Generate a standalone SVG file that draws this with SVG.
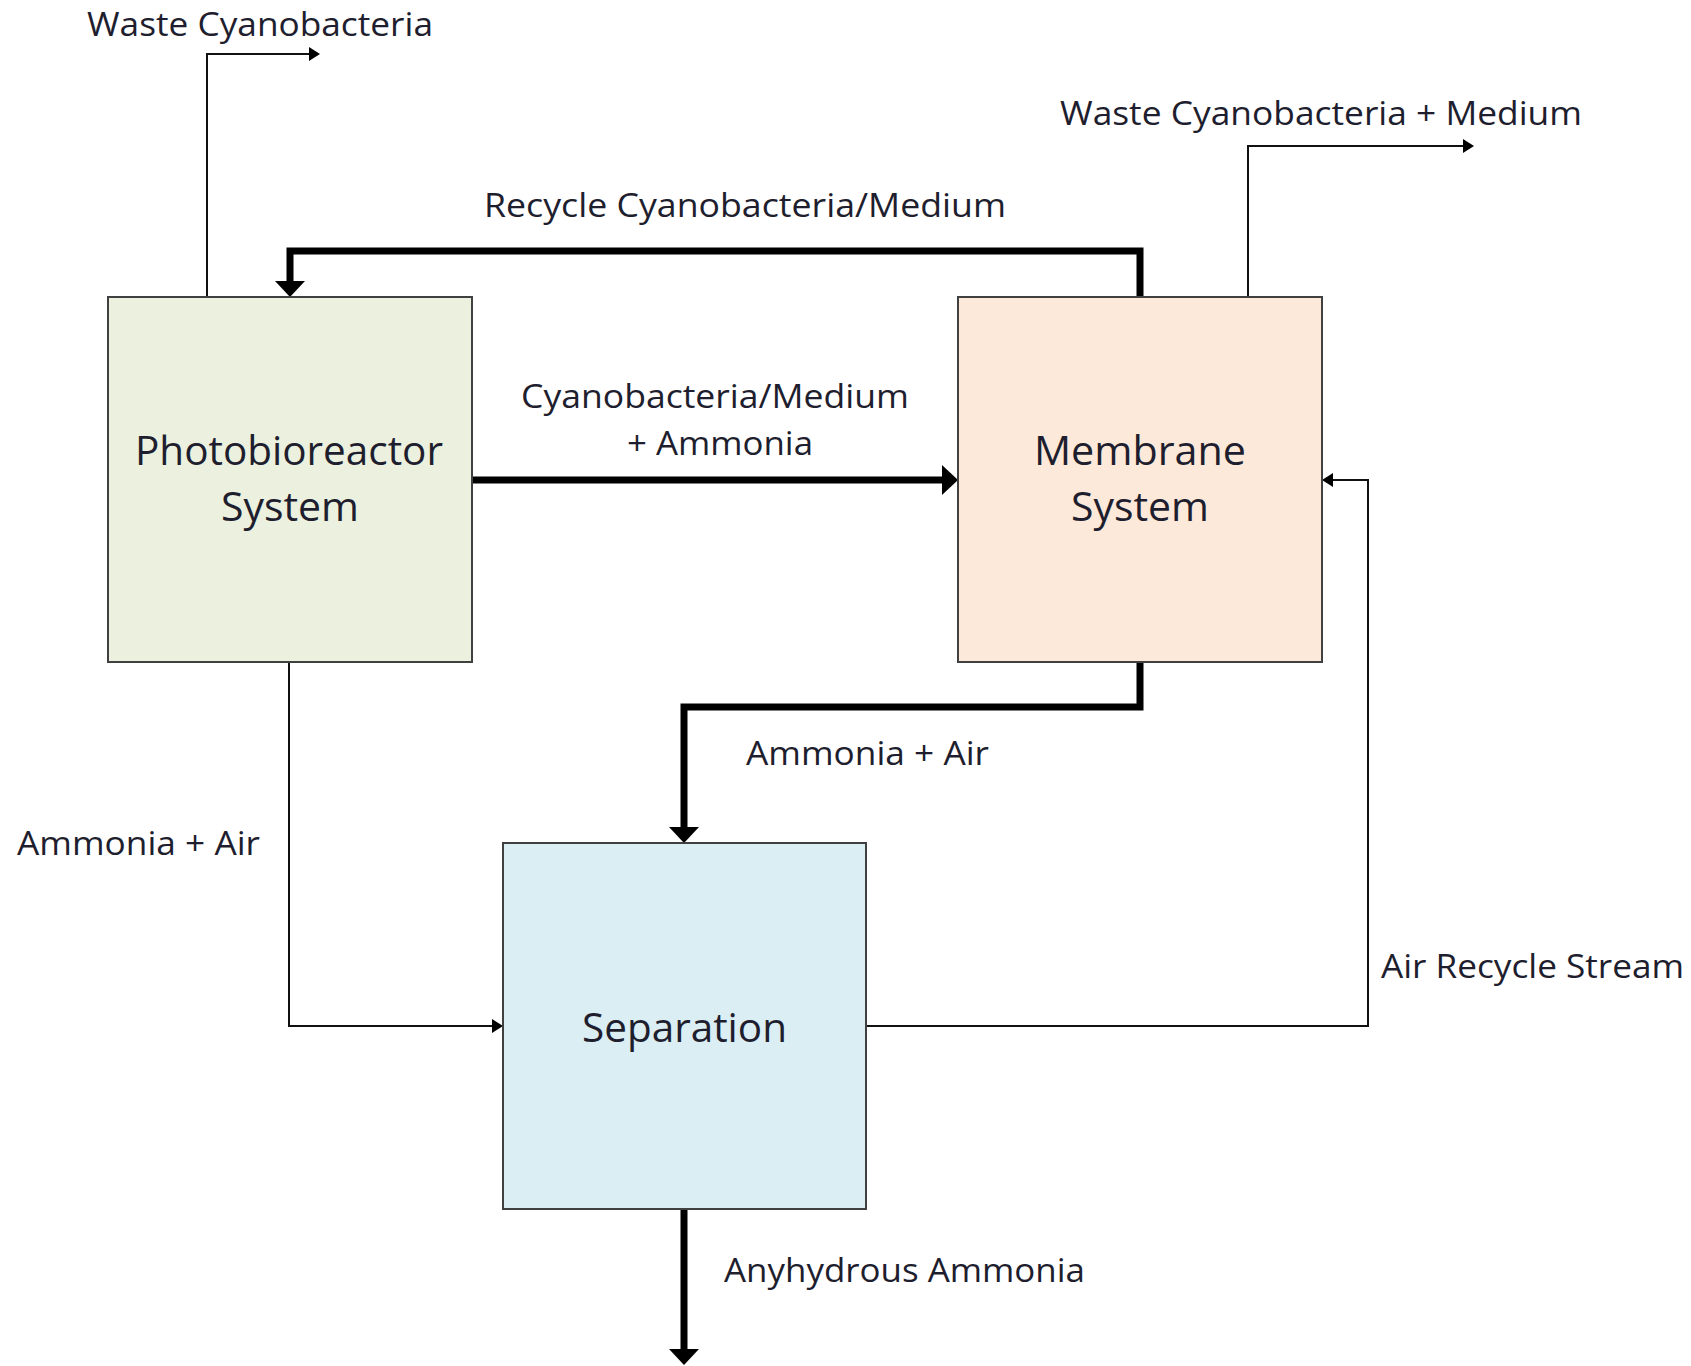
<svg xmlns="http://www.w3.org/2000/svg" width="1691" height="1366" viewBox="0 0 1691 1366">
<style>
  .box { stroke: #404040; stroke-width: 2; }
  .lbl { font-family: "Open Sans", "Liberation Sans", sans-serif; font-size: 32px; fill: #1e1e2e; }
  .node { font-family: "Open Sans", "Liberation Sans", sans-serif; font-size: 41px; fill: #1e1e2e; }
  .thin { fill: none; stroke: #111; stroke-width: 2; stroke-linejoin: miter; }
  .thick { fill: none; stroke: #000; stroke-width: 7; stroke-linejoin: miter; stroke-linecap: round; }
</style>
<defs>
  <marker id="ahThick" markerUnits="userSpaceOnUse" viewBox="0 0 16 30" markerWidth="16" markerHeight="30" refX="0" refY="15" orient="auto">
    <path d="M0,0 L16,15 L0,30 z" fill="#000"/>
  </marker>
  <marker id="ahThin" markerUnits="userSpaceOnUse" viewBox="0 0 11 14" markerWidth="11" markerHeight="14" refX="0" refY="7" orient="auto">
    <path d="M0,0 L11,7 L0,14 z" fill="#000"/>
  </marker>
</defs>
<rect width="1691" height="1366" fill="#ffffff"/>

<g id="connectors">
  <path class="thin" d="M207,297 V54 H309" marker-end="url(#ahThin)"/>
  <path class="thick" d="M1140,297 V251 H290 V281" marker-end="url(#ahThick)"/>
  <path class="thick" d="M472,480 H942" marker-end="url(#ahThick)"/>
  <path class="thin" d="M1248,297 V146 H1463" marker-end="url(#ahThin)"/>
  <path class="thick" d="M1140,662 V707 H684 V827" marker-end="url(#ahThick)"/>
  <path class="thin" d="M289,662 V1026 H492" marker-end="url(#ahThin)"/>
  <path class="thin" d="M866,1026 H1368 V480 H1333" marker-end="url(#ahThin)"/>
  <path class="thick" d="M684,1209 V1349" marker-end="url(#ahThick)"/>
</g>

<g id="node-photobioreactor">
  <rect class="box" x="108" y="297" width="364" height="365" fill="#EBF1DE"/>
  <text class="node" x="135" y="465" textLength="308" lengthAdjust="spacingAndGlyphs">Photobioreactor</text>
  <text class="node" x="221" y="521" textLength="138" lengthAdjust="spacingAndGlyphs">System</text>
</g>

<g id="node-membrane">
  <rect class="box" x="958" y="297" width="364" height="365" fill="#FDE9D9"/>
  <text class="node" x="1034" y="465" textLength="212" lengthAdjust="spacingAndGlyphs">Membrane</text>
  <text class="node" x="1071" y="521" textLength="138" lengthAdjust="spacingAndGlyphs">System</text>
</g>

<g id="node-separation">
  <rect class="box" x="503" y="843" width="363" height="366" fill="#DBEEF3"/>
  <text class="node" x="582" y="1042" textLength="205" lengthAdjust="spacingAndGlyphs">Separation</text>
</g>

<g id="labels">
  <text class="lbl" x="87" y="36" textLength="346" lengthAdjust="spacingAndGlyphs">Waste Cyanobacteria</text>
  <text class="lbl" x="1060" y="125" textLength="522" lengthAdjust="spacingAndGlyphs">Waste Cyanobacteria + Medium</text>
  <text class="lbl" x="484" y="217" textLength="522" lengthAdjust="spacingAndGlyphs">Recycle Cyanobacteria/Medium</text>
  <text class="lbl" x="521" y="408" textLength="388" lengthAdjust="spacingAndGlyphs">Cyanobacteria/Medium</text>
  <text class="lbl" x="627" y="455" textLength="186" lengthAdjust="spacingAndGlyphs">+ Ammonia</text>
  <text class="lbl" x="746" y="765" textLength="243" lengthAdjust="spacingAndGlyphs">Ammonia + Air</text>
  <text class="lbl" x="17" y="855" textLength="243" lengthAdjust="spacingAndGlyphs">Ammonia + Air</text>
  <text class="lbl" x="1381" y="978" textLength="303" lengthAdjust="spacingAndGlyphs">Air Recycle Stream</text>
  <text class="lbl" x="724" y="1282" textLength="361" lengthAdjust="spacingAndGlyphs">Anyhydrous Ammonia</text>
</g>
</svg>
